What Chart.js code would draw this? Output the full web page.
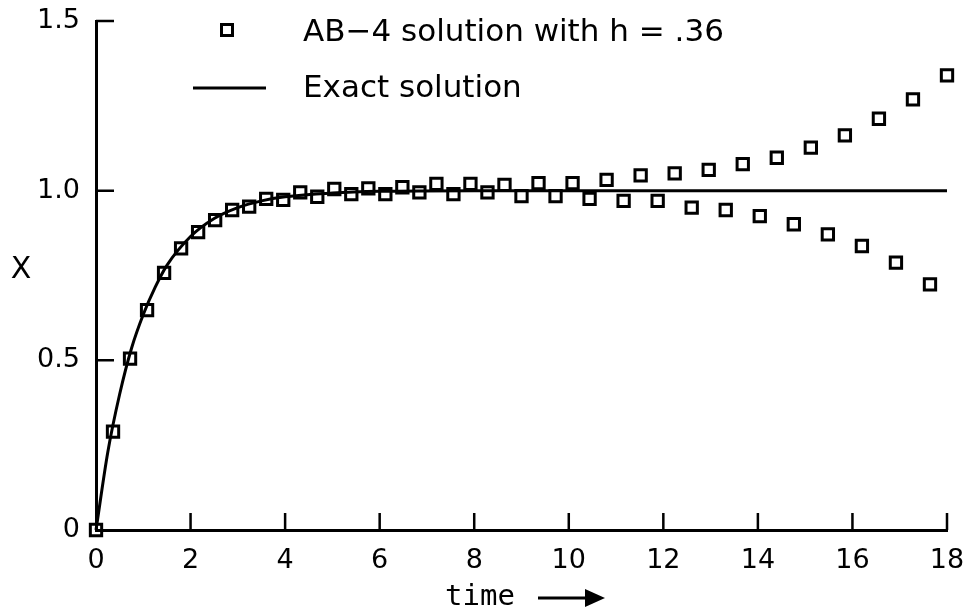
<!DOCTYPE html>
<html>
<head>
<meta charset="utf-8">
<script src="https://cdn.jsdelivr.net/npm/chart.js@4.4.1/dist/chart.umd.min.js"></script>
<style>
  body { margin: 0; background: #fff; }
  #wrap { width: 965px; height: 614px; position: relative; }
</style>
</head>
<body>
<div id="wrap"><canvas id="chart"></canvas></div>
<script>
// AB-4 steps, h = .36
const stepTimes = [0, 0.36, 0.72, 1.08, 1.44, 1.8, 2.16, 2.52, 2.88, 3.24, 3.6, 3.96, 4.32, 4.68, 5.04, 5.4, 5.76,
    6.12, 6.48, 6.84, 7.2, 7.56, 7.92, 8.28, 8.64, 9, 9.36, 9.72, 10.08, 10.44, 10.8, 11.16, 11.52, 11.88,
    12.24, 12.6, 12.96, 13.32, 13.68, 14.04, 14.4, 14.76, 15.12, 15.48, 15.84, 16.2, 16.56, 16.92, 17.28, 17.64, 18];
const ab4Values = [0, 0.29, 0.505, 0.648, 0.758, 0.83, 0.878, 0.913, 0.943, 0.953, 0.976, 0.973, 0.995, 0.982,
    1.005, 0.99, 1.007, 0.99, 1.01, 0.995, 1.02, 0.99, 1.02, 0.995, 1.017, 0.984, 1.022, 0.984, 1.022, 0.976,
    1.032, 0.97, 1.045, 0.97, 1.051, 0.95, 1.061, 0.943, 1.078, 0.925, 1.097, 0.901, 1.127, 0.871, 1.163,
    0.837, 1.212, 0.788, 1.269, 0.724, 1.34];

// exact solution
const exactTimes = [0, 0.25, 0.5, 0.75, 1, 1.25, 1.5, 2, 2.5, 3, 3.5, 4, 5, 6, 8, 10, 14, 18];
const exactValues = [0, 0.23, 0.4, 0.535, 0.635, 0.715, 0.78, 0.865, 0.918, 0.95, 0.97, 0.982, 0.993, 0.998, 1.0, 1.0, 1.0, 1.0];

const xTicks = [0, 2, 4, 6, 8, 10, 12, 14, 16, 18];
const xTickLabels = ['0', '2', '4', '6', '8', '10', '12', '14', '16', '18'];
const yTicks = [0, 0.5, 1.0, 1.5];
const yTickLabels = ['0', '0.5', '1.0', '1.5'];
const xTickMarks = [2, 4, 6, 8, 10, 12, 14, 16, 18];
const yTickMarks = [0.5, 1.0, 1.5];

const labelAB4 = 'AB\u22124 solution with h = .36';
const labelExact = 'Exact solution';

const tickFont = { family: 'DejaVu Sans', size: 27 };

// inward ticks, legend and axis titles
const decor = {
    id: 'decor',
    afterDraw(chart) {
        const { ctx, chartArea: a, scales: { x, y } } = chart;
        ctx.save();
        ctx.strokeStyle = '#000';
        ctx.fillStyle = '#000';
        ctx.lineWidth = 2.5;
        ctx.lineCap = 'butt';

        ctx.beginPath();
        xTickMarks.forEach(v => {
            const px = x.getPixelForValue(v);
            ctx.moveTo(px, a.bottom);
            ctx.lineTo(px, a.bottom - 17);
        });
        yTickMarks.forEach(v => {
            const py = y.getPixelForValue(v);
            ctx.moveTo(a.left, py);
            ctx.lineTo(a.left + 18, py);
        });
        ctx.stroke();

        // legend
        ctx.font = '31px "DejaVu Sans"';
        ctx.textBaseline = 'middle';
        ctx.textAlign = 'left';
        ctx.lineWidth = 3;
        ctx.strokeRect(227 - 5.5, 30 - 5.5, 11, 11);
        ctx.fillText(labelAB4, 303, 33);
        ctx.beginPath();
        ctx.moveTo(193, 88);
        ctx.lineTo(266, 88);
        ctx.stroke();
        ctx.fillText(labelExact, 303, 89);

        // y title
        ctx.font = '30px "DejaVu Sans"';
        ctx.textAlign = 'center';
        ctx.fillText('X', 21, 270);

        // x title with arrow
        ctx.font = '29px "DejaVu Sans Mono"';
        ctx.textAlign = 'left';
        ctx.fillText('time', 445, 597);
        ctx.lineWidth = 3;
        ctx.beginPath();
        ctx.moveTo(538, 598);
        ctx.lineTo(588, 598);
        ctx.stroke();
        ctx.beginPath();
        ctx.moveTo(585, 589);
        ctx.lineTo(605, 598);
        ctx.lineTo(585, 607);
        ctx.closePath();
        ctx.fill();
        ctx.restore();
    }
};

new Chart(document.getElementById('chart'), {
    type: 'scatter',
    data: {
        datasets: [
            {
                label: labelExact,
                data: exactTimes.map((t, i) => ({ x: t, y: exactValues[i] })),
                showLine: true,
                borderColor: '#000',
                borderWidth: 3,
                pointRadius: 0,
                cubicInterpolationMode: 'monotone',
                clip: false
            },
            {
                label: labelAB4,
                data: stepTimes.map((t, i) => ({ x: t, y: ab4Values[i] })),
                showLine: false,
                pointStyle: 'rect',
                pointRadius: 8,
                borderColor: '#000',
                backgroundColor: 'rgba(0,0,0,0)',
                borderWidth: 3,
                clip: false
            }
        ]
    },
    options: {
        responsive: true,
        maintainAspectRatio: false,
        animation: false,
        layout: { padding: { left: 0, right: 18, top: 21, bottom: 0 } },
        plugins: {
            legend: { display: false },
            tooltip: { enabled: false }
        },
        scales: {
            x: {
                type: 'linear',
                min: 0,
                max: 18,
                afterBuildTicks: axis => { axis.ticks = xTicks.map(v => ({ value: v })); },
                afterFit: axis => {
                    axis.height = 84;
                    axis.paddingLeft = 0;
                    axis.paddingRight = 0;
                },
                ticks: {
                    autoSkip: false,
                    maxRotation: 0,
                    padding: 15,
                    color: '#000',
                    font: tickFont,
                    callback: (v, i) => xTickLabels[i]
                },
                grid: { drawOnChartArea: false, drawTicks: false },
                border: { display: true, color: '#000', width: 3 }
            },
            y: {
                type: 'linear',
                min: 0,
                max: 1.5,
                afterBuildTicks: axis => { axis.ticks = yTicks.map(v => ({ value: v })); },
                afterFit: axis => {
                    axis.width = 96;
                    axis.paddingTop = 0;
                    axis.paddingBottom = 0;
                },
                ticks: {
                    autoSkip: false,
                    padding: 16,
                    color: '#000',
                    font: tickFont,
                    callback: (v, i) => yTickLabels[i]
                },
                grid: { drawOnChartArea: false, drawTicks: false },
                border: { display: true, color: '#000', width: 3 }
            }
        }
    },
    plugins: [decor]
});
</script>
</body>
</html>
